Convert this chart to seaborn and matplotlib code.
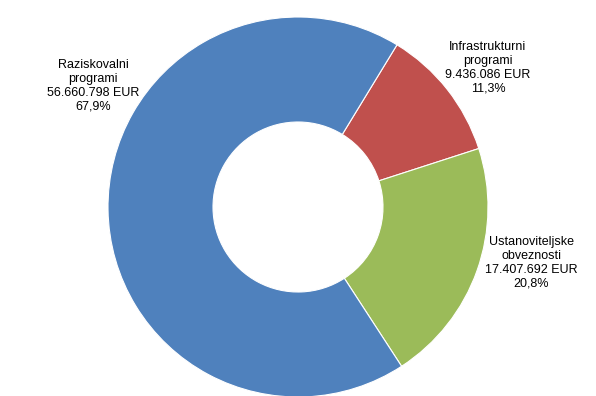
import seaborn as sns
import matplotlib.pyplot as plt

# data (order: clockwise from the red slice)
names = ["Infrastrukturni\nprogrami", "Ustanoviteljske\nobveznosti", "Raziskovalni\nprogrami"]
amounts = ["9.436.086", "17.407.692", "56.660.798"]
shares = [11.3, 20.8, 67.9]
colors = ["#C0504D", "#9BBB59", "#4F81BD"]

sns.set_theme(style="white")
plt.rcParams['font.family'] = ['Liberation Sans', 'DejaVu Sans']

fig = plt.figure(figsize=(5.96, 3.96), dpi=100)
ax = fig.add_axes([0, 0, 1, 1])

R = 190.0
cx, cy = 298, 207  # pixel center of the ring
ax.pie(shares, colors=colors, startangle=58.6, counterclock=False,
       radius=1.0, wedgeprops=dict(width=1 - 85 / R, edgecolor="white", linewidth=0.8))
ax.set_xlim(-cx / R, (596 - cx) / R)
ax.set_ylim(-(396 - cy) / R, cy / R)
ax.set_aspect("equal")
ax.axis("off")

# label positions in pixels
label_px = [(488, 68), (531, 263), (93, 86)]
for name, amt, sh, (px, py) in zip(names, amounts, shares, label_px):
    txt = f"{name}\n{amt} EUR\n" + f"{sh:.1f}".replace(".", ",") + "%"
    ax.text((px - cx) / R, (cy - py) / R, txt, ha="center", va="center",
            fontsize=9, linespacing=1.2, color="black")

fig.savefig("out.png", dpi=100)
